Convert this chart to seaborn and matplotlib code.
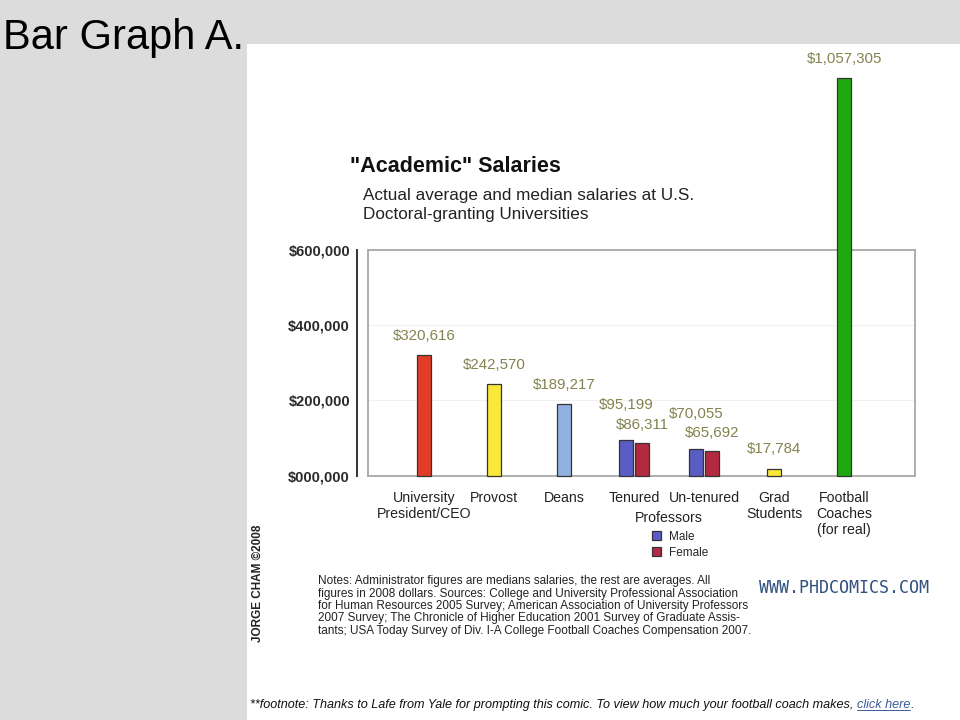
import pandas as pd
import matplotlib
matplotlib.use("Agg")
import matplotlib.pyplot as plt
from matplotlib.patches import Rectangle
from matplotlib.lines import Line2D
from matplotlib.ticker import FuncFormatter
import seaborn as sns

categories = ["University\nPresident/CEO", "Provost", "Deans", "Tenured", "Un-tenured",
              "Grad\nStudents", "Football\nCoaches\n(for real)"]

single_groups = ["University\nPresident/CEO", "Provost", "Deans", "Grad\nStudents",
                 "Football\nCoaches\n(for real)"]
single_salaries = [320616, 242570, 189217, 17784, 1057305]
single_colors = ["#e23b28", "#f9e83a", "#93b1e0", "#f9e83a", "#1fa80f"]

prof_groups = ["Tenured", "Tenured", "Un-tenured", "Un-tenured"]
prof_sex = ["Male", "Female", "Male", "Female"]
prof_salaries = [95199, 86311, 70055, 65692]
sex_colors = ["#5a5dc4", "#b32a40"]

y_ticks = [0, 200000, 400000, 600000]

notes = ("Notes: Administrator figures are medians salaries, the rest are averages. All\n"
         "figures in 2008 dollars. Sources: College and University Professional Association\n"
         "for Human Resources 2005 Survey; American Association of University Professors\n"
         "2007 Survey; The Chronicle of Higher Education 2001 Survey of Graduate Assis-\n"
         "tants; USA Today Survey of Div. I-A College Football Coaches Compensation 2007.")

sns.set_style("white")
plt.rcParams["font.family"] = ["Liberation Sans", "DejaVu Sans"]

W, H = 960, 720
fig = plt.figure(figsize=(W / 100, H / 100), dpi=100, facecolor="#dcdcdc")
fig.patches.append(Rectangle((247 / W, 0), 1 - 247 / W, 1 - 44 / H,
                             transform=fig.transFigure, facecolor="white",
                             edgecolor="none", zorder=-1))

ax = fig.add_axes([368 / W, 1 - 475.5 / H, (915 - 368) / W, (475.5 - 250) / H])
ax.set_facecolor("white")

single_df = pd.DataFrame({"Group": single_groups, "Salary": single_salaries})
prof_df = pd.DataFrame({"Group": prof_groups, "Sex": prof_sex, "Salary": prof_salaries})

sns.barplot(data=single_df, x="Group", y="Salary", hue="Group", order=categories,
            hue_order=single_groups, palette=single_colors, width=0.2, saturation=1,
            errorbar=None, edgecolor="#333333", linewidth=0.9, legend=False, ax=ax)
n_single = len(ax.containers)
sns.barplot(data=prof_df, x="Group", y="Salary", hue="Sex", order=categories,
            hue_order=["Male", "Female"], palette=sex_colors, width=0.46, gap=0.1,
            saturation=1, errorbar=None, edgecolor="#333333", linewidth=0.9, ax=ax)

# bars sit on top of the frame; the football bar breaks out of it
for p in ax.patches:
    p.set_clip_on(False)
    p.set_zorder(3)

label_color = "#83834f"
money = lambda v: f"${v:,.0f}"
for c in ax.containers[:n_single]:
    ax.bar_label(c, fmt=money, padding=9, fontsize=10.8, color=label_color,
                 annotation_clip=False)
ax.bar_label(ax.containers[n_single], fmt=money, padding=20, fontsize=10.8,
             color=label_color, annotation_clip=False)
ax.bar_label(ax.containers[n_single + 1], fmt=money, padding=8, fontsize=10.8,
             color=label_color, annotation_clip=False)

ax.set_xlim(-0.8, 7.01)
ax.set_ylim(0, 600000)
ax.set_yticks(y_ticks)
ax.yaxis.set_major_formatter(FuncFormatter(lambda v, pos: "$" + format(int(v), "07,")))
ax.set_xlabel("")
ax.set_ylabel("")
ax.yaxis.grid(True, color="#f0f0f0", linewidth=0.8)
ax.set_axisbelow(True)

for side in ["top", "right", "bottom"]:
    ax.spines[side].set_color("#a8a8a8")
    ax.spines[side].set_linewidth(1.3)
ax.spines["left"].set_position(("outward", 8))
ax.spines["left"].set_color("#333333")
ax.spines["left"].set_linewidth(1.4)
ax.axvline(ax.get_xlim()[0], color="#a8a8a8", linewidth=1.3, clip_on=False)

ax.tick_params(axis="y", direction="out", length=3, width=1, color="#333333", pad=2,
               labelsize=10.5, labelcolor="#2a2a2a")
for t in ax.get_yticklabels():
    t.set_fontweight("bold")
ax.tick_params(axis="x", length=0, pad=11, labelsize=10.2, labelcolor="#222222")

# "Professors" under Tenured / Un-tenured
mid = (categories.index("Tenured") + categories.index("Un-tenured")) / 2
ax.annotate("Professors", xy=(mid, 0), xycoords=("data", "axes fraction"),
            xytext=(0, -30.5), textcoords="offset points", ha="center", va="center",
            fontsize=10.2, color="#222222", annotation_clip=False)

sns.move_legend(ax, "upper left", bbox_to_anchor=(641 / W, 1 - 520 / H),
                bbox_transform=fig.transFigure, title=None, frameon=False,
                handlelength=0.8, handleheight=0.8, handletextpad=0.7,
                labelspacing=0.35, fontsize=8.5)

# Titles
fig.text(350 / W, 1 - 166 / H, '"Academic" Salaries', fontsize=15.5, fontweight="bold",
         va="center", ha="left", color="#111111")
fig.text(363 / W, 1 - 205 / H,
         "Actual average and median salaries at U.S.\nDoctoral-granting Universities",
         fontsize=12.3, va="center", ha="left", color="#222222", linespacing=1.3)

fig.text(3 / W, 1 - 38 / H, "Bar Graph A.", fontsize=30, va="center", ha="left",
         color="black", zorder=5)

fig.text(318 / W, 1 - 606 / H, notes, fontsize=8.5, va="center", ha="left",
         color="#222222", linespacing=1.05)

fig.text(844 / W, 1 - 588 / H, "WWW.PHDCOMICS.COM", fontsize=12, va="center",
         ha="center", color="#30507f", family="DejaVu Sans Mono")

fig.text(258 / W, 1 - 583 / H, "JORGE CHAM \u00a92008", fontsize=8.5, rotation=90,
         va="center", ha="center", color="#222222", fontweight="bold")

# footnote
foot_size = 9.1
foot = fig.text(250 / W, 1 - 705 / H,
                "**footnote: Thanks to Lafe from Yale for prompting this comic. "
                "To view how much your football coach makes, ",
                fontsize=foot_size, style="italic", va="center", ha="left", color="#111111")
renderer = fig.canvas.get_renderer()
bb = foot.get_window_extent(renderer)
link = fig.text(bb.x1 / W, 1 - 705 / H, "click here", fontsize=foot_size, style="italic",
                va="center", ha="left", color="#3a5a9a")
lb = link.get_window_extent(renderer)
fig.text(lb.x1 / W, 1 - 705 / H, ".", fontsize=foot_size, style="italic", va="center",
         ha="left", color="#111111")
fig.lines.append(Line2D([lb.x0 / W, lb.x1 / W], [(lb.y0 + 1) / H, (lb.y0 + 1) / H],
                        transform=fig.transFigure, color="#3a5a9a", linewidth=0.7))

fig.savefig("out.png", dpi=100, facecolor=fig.get_facecolor())
